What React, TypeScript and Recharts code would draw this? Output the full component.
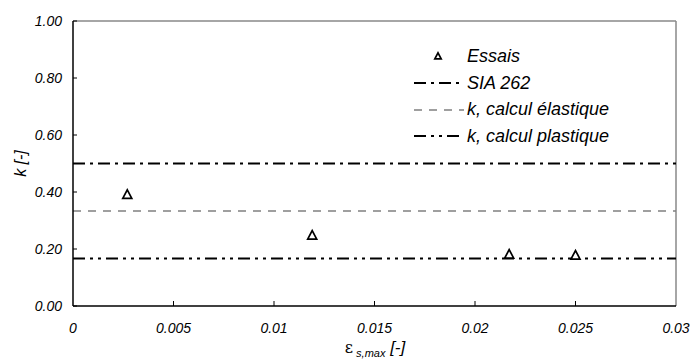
import React from 'react';
import { ScatterChart, Scatter, XAxis, YAxis, ReferenceLine } from 'recharts';

// measured points (Essais)
const epsValues = [0.0027, 0.0119, 0.0217, 0.025];
const kValues = [0.392, 0.249, 0.182, 0.179];

const xTicks = [0, 0.005, 0.01, 0.015, 0.02, 0.025, 0.03];
const xTickLabels = ['0', '0.005', '0.01', '0.015', '0.02', '0.025', '0.03'];
const yTicks = [0, 0.2, 0.4, 0.6, 0.8, 1.0];

const kSia = 0.5;
const kElastic = 1 / 3;
const kPlastic = 1 / 6;

const legendLabels = ['Essais', 'SIA 262', 'k, calcul élastique', 'k, calcul plastique'];

const FONT = '"Liberation Sans", Arial, sans-serif';
const DASH_SIA = '12 5 3 5';
const DASH_ELASTIC = '8 7';
const DASH_PLASTIC = '12 5 3 5 3 5';

const data = epsValues.map((x, i) => ({ x, y: kValues[i] }));

const Triangle = (props: any) => {
  const { cx, cy, r = 4.5 } = props;
  if (cx == null || cy == null) return null;
  return (
    <polygon
      points={`${cx - r},${cy + r * 0.9} ${cx + r},${cy + r * 0.9} ${cx},${cy - r}`}
      fill="#fff"
      stroke="#000"
      strokeWidth={1.7}
    />
  );
};

// inward ticks: tickSize is 0, so x/y given here sit tickMargin away from the axis
const X_MARGIN = 4;
const XTick = (props: any) => {
  const { x, y, index } = props;
  const axisY = y - X_MARGIN;
  return (
    <g>
      {index > 0 && index < xTicks.length - 1 && (
        <line x1={x} x2={x} y1={axisY} y2={axisY - 5} stroke="#000" strokeWidth={1} />
      )}
      <text x={x} y={axisY + 27} textAnchor="middle" fontSize={14} fontStyle="italic" fontFamily={FONT} fill="#000">
        {xTickLabels[index]}
      </text>
    </g>
  );
};

const Y_MARGIN = 4;
const YTick = (props: any) => {
  const { x, y, payload } = props;
  const axisX = x + Y_MARGIN;
  return (
    <g>
      <line x1={axisX} x2={axisX + 4} y1={y} y2={y} stroke="#000" strokeWidth={1} />
      <text x={axisX - 11} y={y + 5} textAnchor="end" fontSize={14} fontStyle="italic" fontFamily={FONT} fill="#000">
        {payload.value.toFixed(2)}
      </text>
    </g>
  );
};

const XTitle = () => (
  <text x={375} y={353} textAnchor="middle" fontFamily={FONT} fill="#000">
    <tspan fontSize={16} fontFamily="DejaVu Serif, serif">ε</tspan>
    <tspan fontSize={11} fontStyle="italic" dy={4}> s,max</tspan>
    <tspan fontSize={17} fontStyle="italic" dy={-4}>  [-]</tspan>
  </text>
);

const legendDash = [null, DASH_SIA, DASH_ELASTIC, DASH_PLASTIC];
const legendColor = ['#000', '#000', '#808080', '#000'];
const legendWidth = [0, 2, 1.5, 2];

const ChartLegend = () => (
  <div style={{ position: 'absolute', left: 414, top: 43, fontFamily: FONT }}>
    {legendLabels.map((label, i) => (
      <div key={label} style={{ display: 'flex', alignItems: 'center', height: 26.7 }}>
        <svg width={50} height={12} style={{ marginRight: 3 }}>
          {i === 0 ? (
            <Triangle cx={24} cy={6} r={3.2} />
          ) : (
            <line x1={0} x2={50} y1={6} y2={6} stroke={legendColor[i]} strokeWidth={legendWidth[i]} strokeDasharray={legendDash[i] as string} />
          )}
        </svg>
        <span style={{ fontSize: 18, fontStyle: 'italic', color: '#000', whiteSpace: 'nowrap' }}>{label}</span>
      </div>
    ))}
  </div>
);

export default function App() {
  return (
    <div style={{ position: 'absolute', left: 0, top: 0, width: 691, height: 360, background: '#fff' }}>
      <ScatterChart width={691} height={360} margin={{ top: 21, right: 15, left: 10, bottom: 0 }}>
        <XAxis
          type="number"
          dataKey="x"
          domain={[0, 0.03]}
          ticks={xTicks}
          interval={0}
          height={54}
          tickSize={0}
          tickMargin={X_MARGIN}
          tickLine={false}
          axisLine={{ stroke: '#000', strokeWidth: 1.5 }}
          tick={<XTick />}
        />
        <YAxis
          type="number"
          dataKey="y"
          domain={[0, 1]}
          ticks={yTicks}
          interval={0}
          width={63}
          tickSize={0}
          tickMargin={Y_MARGIN}
          tickLine={false}
          axisLine={{ stroke: '#000', strokeWidth: 1.5 }}
          tick={<YTick />}
          label={{ value: 'k [-]', angle: -90, position: 'insideLeft', offset: 10, style: { fontSize: 16, fontStyle: 'italic', fontFamily: FONT, fill: '#000', textAnchor: 'middle' } }}
        />
        <ReferenceLine y={1} stroke="#888" strokeWidth={1.5} />
        <ReferenceLine x={0.03} stroke="#888" strokeWidth={1.5} />
        <ReferenceLine y={kSia} stroke="#000" strokeWidth={2} strokeDasharray={DASH_SIA} />
        <ReferenceLine y={kElastic} stroke="#808080" strokeWidth={1.5} strokeDasharray={DASH_ELASTIC} />
        <ReferenceLine y={kPlastic} stroke="#000" strokeWidth={2} strokeDasharray={DASH_PLASTIC} />
        <Scatter data={data} shape={<Triangle />} isAnimationActive={false} />
        <XTitle />
      </ScatterChart>
      <ChartLegend />
    </div>
  );
}
